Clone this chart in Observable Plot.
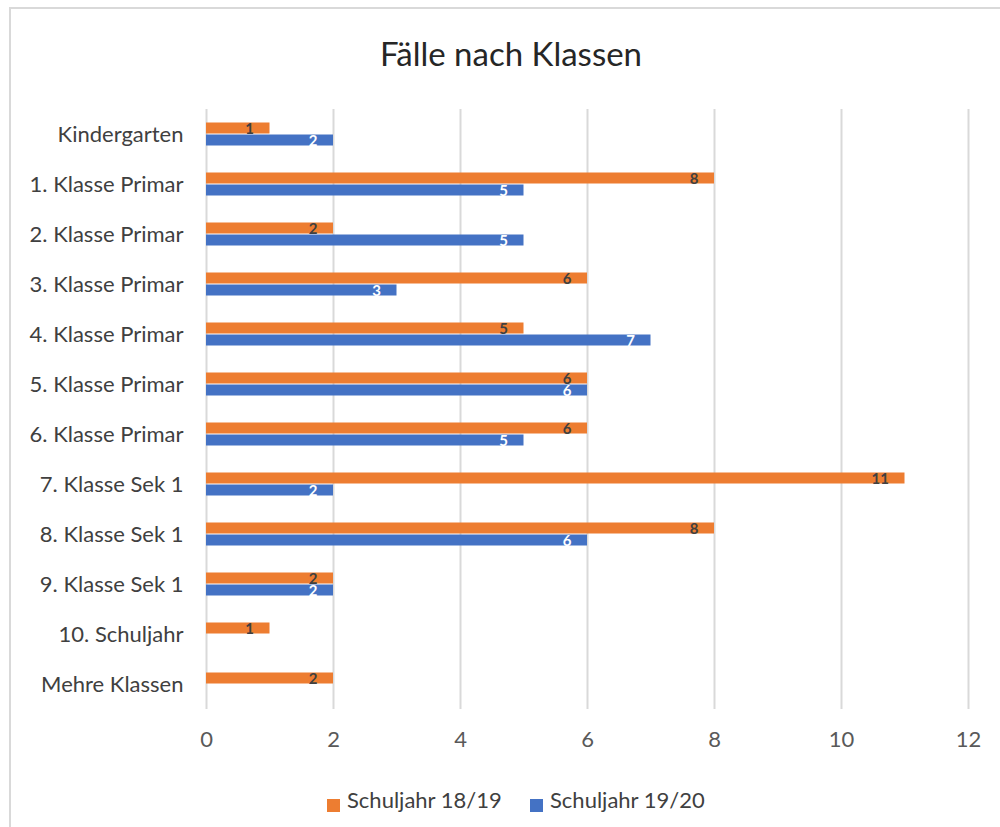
<!DOCTYPE html>
<html>
<head>
<meta charset="utf-8">
<script src="https://cdn.jsdelivr.net/npm/d3@7"></script>
<script src="https://cdn.jsdelivr.net/npm/@observablehq/plot@0.6"></script>
<style>
  html, body { margin: 0; padding: 0; background: #fff; }
  body { width: 1000px; height: 827px; overflow: hidden; position: relative; font-family: Lato, "Open Sans", sans-serif; }
  #frame { position: absolute; left: 9px; top: 7px; width: 1010px; height: 840px; border: 2px solid #d9d9d9; box-sizing: border-box; }
  #title { position: absolute; left: 0; width: 1022px; top: 33px; text-align: center; font-size: 33px; color: #262626; }
  #chart { position: absolute; left: 0; top: 0; }
  .leg { position: absolute; top: 786px; font-size: 22px; color: #404040; white-space: nowrap; }
  .sw { position: absolute; width: 13px; height: 13px; top: 799px; }
</style>
</head>
<body>
<div id="frame"></div>
<div id="chart"></div>
<div id="title">Fälle nach Klassen</div>
<div class="sw" id="sw1"></div><div class="leg" id="lg1"></div>
<div class="sw" id="sw2"></div><div class="leg" id="lg2"></div>
<script>
const categories = ["Kindergarten", "1. Klasse Primar", "2. Klasse Primar", "3. Klasse Primar", "4. Klasse Primar", "5. Klasse Primar", "6. Klasse Primar", "7. Klasse Sek 1", "8. Klasse Sek 1", "9. Klasse Sek 1", "10. Schuljahr", "Mehre Klassen"];
const seriesNames = ["Schuljahr 18/19", "Schuljahr 19/20"];
const values1819 = [1, 8, 2, 6, 5, 6, 6, 11, 8, 2, 1, 2];
const values1920 = [2, 5, 5, 3, 7, 6, 5, 2, 6, 2, null, null];
const seriesColors = ["#ED7D31", "#4472C4"];
const labelColors = ["#404040", "#ffffff"];
const xTicks = [0, 2, 4, 6, 8, 10, 12];

const rows = [];
categories.forEach((c, i) => {
  [values1819, values1920].forEach((vals, s) => {
    if (vals[i] != null) rows.push({cat: c, series: seriesNames[s], value: vals[i], fill: seriesColors[s], lab: labelColors[s]});
  });
});

const chart = Plot.plot({
  width: 1000,
  height: 827,
  marginTop: 106,
  marginBottom: 115,
  marginLeft: 206,
  marginRight: 32,
  style: {fontFamily: "Lato, 'Open Sans', sans-serif", background: "transparent"},
  x: {domain: [0, 12]},
  fy: {domain: categories, padding: 0},
  y: {domain: seriesNames, paddingInner: 0, paddingOuter: 0.98, axis: null},
  color: {type: "identity"},
  marks: [
    Plot.gridX(xTicks, {stroke: "#d9d9d9", strokeOpacity: 1, strokeWidth: 2}),
    Plot.barX(rows, {fy: "cat", y: "series", x: "value", fill: "fill", insetTop: 0.5, insetBottom: 0.5}),
    Plot.text(rows, {fy: "cat", y: "series", x: "value", text: d => String(d.value), textAnchor: "end", dx: -16, dy: 1, fill: "lab", fontWeight: "bold", fontSize: 15}),
    Plot.axisX(xTicks, {tickSize: 0, tickPadding: 22, label: null, fontSize: 22, fill: "#595959"}),
    Plot.axisFy({anchor: "left", tickSize: 0, tickPadding: 23, label: null, fontSize: 22, fill: "#404040"})
  ]
});
document.getElementById("chart").appendChild(chart);

const sw1 = document.getElementById("sw1"), sw2 = document.getElementById("sw2");
sw1.style.left = "327px"; sw1.style.background = seriesColors[0];
sw2.style.left = "530px"; sw2.style.background = seriesColors[1];
const lg1 = document.getElementById("lg1"), lg2 = document.getElementById("lg2");
lg1.style.left = "347px"; lg1.textContent = seriesNames[0];
lg2.style.left = "550px"; lg2.textContent = seriesNames[1];
</script>
</body>
</html>
